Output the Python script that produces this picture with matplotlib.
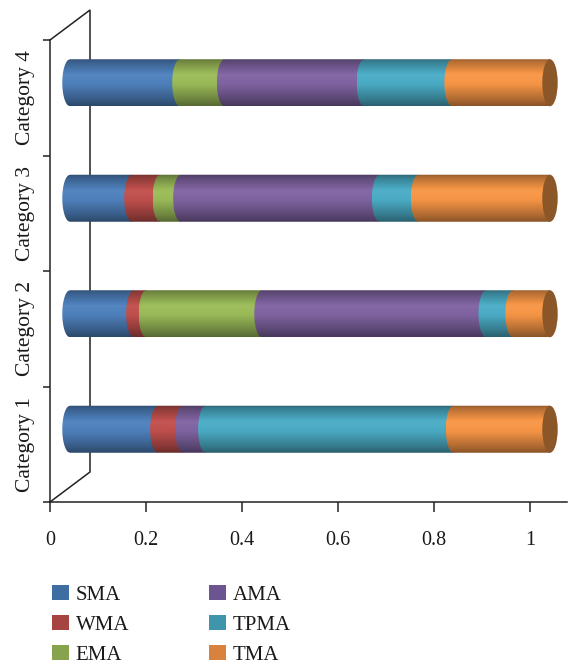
import numpy as np
import matplotlib
matplotlib.use('Agg')
import matplotlib.pyplot as plt
from matplotlib.path import Path
from matplotlib.patches import PathPatch, Ellipse, Patch
from matplotlib.colors import to_rgb

# ---------------- data ----------------
categories = ['Category 1', 'Category 2', 'Category 3', 'Category 4']
series = ['SMA', 'WMA', 'EMA', 'AMA', 'TPMA', 'TMA']
SMA = [0.183, 0.133, 0.129, 0.229]
WMA = [0.052, 0.026, 0.059, 0.0]
EMA = [0.0, 0.241, 0.043, 0.093]
AMA = [0.048, 0.467, 0.414, 0.291]
TPMA = [0.516, 0.056, 0.081, 0.183]
TMA = [0.201, 0.077, 0.274, 0.204]
xticks = [0, 0.2, 0.4, 0.6, 0.8, 1]
xticklabels = ['0', '0.2', '0.4', '0.6', '0.8', '1']

values = [SMA, WMA, EMA, AMA, TPMA, TMA]
bar_colors = ['#4F81BD', '#C0504D', '#9BBB59', '#8064A2', '#4BACC6', '#F79646']
legend_colors = ['#3D6DA1', '#A64441', '#87A34D', '#6B5490', '#3F95AC', '#D8823D']
cap_color = '#8B5628'
text_color = '#1a1a1a'

plt.rcParams['font.family'] = ['Liberation Serif', 'DejaVu Serif']

W, H, DPI = 568, 665, 100
fig = plt.figure(figsize=(W / DPI, H / DPI), dpi=DPI)

# front plane axes
ax = fig.add_axes([50 / W, (H - 502) / H, 517 / W, 462 / H])
ax.set_xlim(0, 517 / 480)
ax.set_ylim(0, 4)
ax.patch.set_alpha(0)
for s in ['top', 'right']:
    ax.spines[s].set_visible(False)
for s in ['left', 'bottom']:
    ax.spines[s].set_color('#222222')
    ax.spines[s].set_linewidth(1.1)

ax.set_xticks(xticks)
ax.set_xticklabels(xticklabels)
ax.tick_params(axis='x', direction='out', length=7, width=1.1, pad=14,
               labelsize=14.5, colors='#222222', labelcolor=text_color)
ax.set_yticks([0, 1, 2, 3, 4])
ax.set_yticklabels([])
ax.tick_params(axis='y', which='major', direction='out', length=5, width=1.1,
               colors='#222222')
ax.set_yticks([i + 0.5 for i in range(len(categories))], minor=True)
ax.set_yticklabels(categories, minor=True, rotation=90, va='center')
ax.tick_params(axis='y', which='minor', length=0, pad=11, labelsize=15.5,
               labelcolor=text_color)

# 3D frame (depth lines + back wall edge)
dxd = 40 / 480
dyd = 30 / 115.5
ax.plot([0, dxd, dxd, 0], [4, 4 + dyd, dyd, 0], color='#222222', lw=1.1,
        clip_on=False, solid_joinstyle='miter')

# bar axes: shifted half-depth back (20 px right, 15 px up); extra room on the left
axb = fig.add_axes([50 / W, (H - 487) / H, 537 / W, 462 / H])
axb.axis('off')
axb.patch.set_alpha(0)

bar_h = 0.407
a = 7.7 / 480  # ellipse half width in data units

prof_pos = np.array([0.0, 0.06, 0.35, 0.55, 0.85, 1.0])
prof_fac = np.array([0.58, 0.72, 1.04, 0.98, 0.72, 0.56])
rows = np.linspace(0, 1, 80)
fac = np.interp(rows, prof_pos, prof_fac)


def gradient(color):
    base = np.array(to_rgb(color))
    out = []
    for f in fac:
        if f <= 1:
            out.append(base * f)
        else:
            out.append(base + (1 - base) * (f - 1))
    arr = np.array(out)[:, None, :]
    return np.repeat(arr, 2, axis=1)


ss = np.linspace(-1, 1, 61)
for i, cat in enumerate(categories):
    c = i + 0.5
    left = 0.0
    for j, name in enumerate(series):
        v = values[j][i]
        if v <= 0:
            continue
        right = left + v
        xs = left - a * np.sqrt(np.clip(1 - ss ** 2, 0, None))
        ys = c + ss * bar_h / 2
        verts = list(zip(xs, ys)) + [(right, c + bar_h / 2), (right, c - bar_h / 2), (xs[0], ys[0])]
        codes = [Path.MOVETO] + [Path.LINETO] * (len(verts) - 2) + [Path.CLOSEPOLY]
        patch = PathPatch(Path(verts, codes), facecolor='none', edgecolor='none',
                          transform=axb.transData)
        axb.add_patch(patch)
        im = axb.imshow(gradient(bar_colors[j]), extent=(left - a, right, c - bar_h / 2, c + bar_h / 2),
                        origin='upper', aspect='auto', interpolation='bilinear')
        im.set_clip_path(patch)
        left = right
    cap = Ellipse((left, c), width=2 * a, height=bar_h, facecolor=cap_color,
                  edgecolor='none', zorder=5)
    axb.add_patch(cap)

axb.set_xlim(-20 / 480, 517 / 480)
axb.set_ylim(0, 4)

# legend
handles = [Patch(facecolor=col, edgecolor='none') for col in legend_colors]
leg = fig.legend(handles, series, ncol=2, loc='upper left',
                 bbox_to_anchor=(52 / W, 1 - 585 / H), frameon=False, fontsize=15,
                 handlelength=0.8, handleheight=0.76, handletextpad=0.33,
                 labelspacing=0.48, columnspacing=3.85, borderpad=0, borderaxespad=0)
for t in leg.get_texts():
    t.set_color(text_color)

fig.savefig('out.png', dpi=DPI)
